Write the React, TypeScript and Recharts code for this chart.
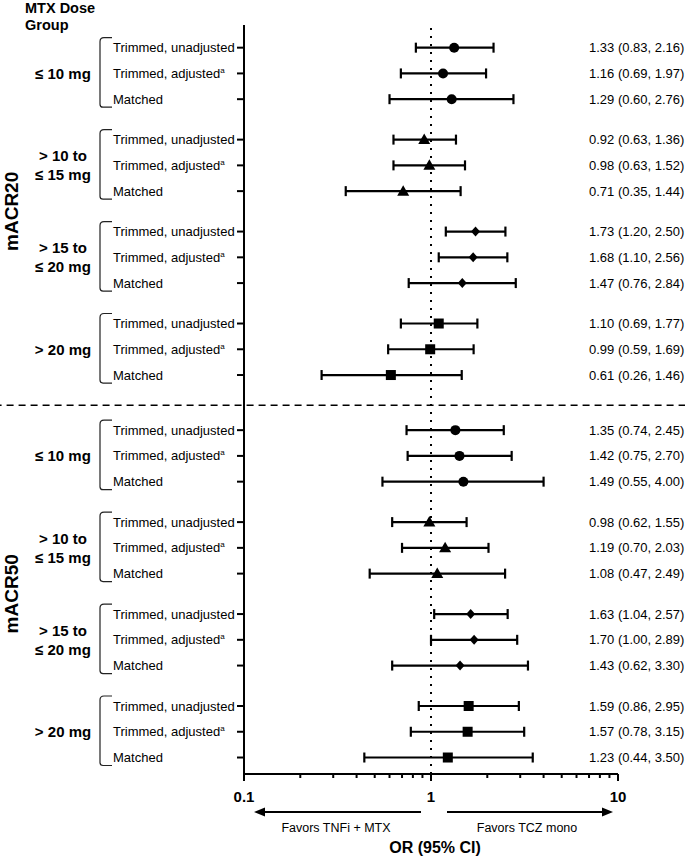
import React from "react";
import { ScatterChart, Scatter, XAxis, YAxis, ErrorBar, ReferenceLine, Label } from "recharts";

// rows inside each dose group, top to bottom
const outcomes = ["mACR20", "mACR50"];
const doseGroups = [["≤ 10 mg"], ["> 10 to", "≤ 15 mg"], ["> 15 to", "≤ 20 mg"], ["> 20 mg"]];
const methods = ["Trimmed, unadjusted", "Trimmed, adjusted", "Matched"];
const footnoted = [false, true, false];
const markers = ["circle", "triangle", "diamond", "square"];

const or20 = [1.33, 1.16, 1.29, 0.92, 0.98, 0.71, 1.73, 1.68, 1.47, 1.1, 0.99, 0.61];
const lo20 = [0.83, 0.69, 0.6, 0.63, 0.63, 0.35, 1.2, 1.1, 0.76, 0.69, 0.59, 0.26];
const hi20 = [2.16, 1.97, 2.76, 1.36, 1.52, 1.44, 2.5, 2.56, 2.84, 1.77, 1.69, 1.46];

const or50 = [1.35, 1.42, 1.49, 0.98, 1.19, 1.08, 1.63, 1.7, 1.43, 1.59, 1.57, 1.23];
const lo50 = [0.74, 0.75, 0.55, 0.62, 0.7, 0.47, 1.04, 1.0, 0.62, 0.86, 0.78, 0.44];
const hi50 = [2.45, 2.7, 4.0, 1.55, 2.03, 2.49, 2.57, 2.89, 3.3, 2.95, 3.15, 3.5];

const xTicks = [0.1, 0.2, 0.3, 0.4, 0.5, 0.6, 0.7, 0.8, 0.9, 1, 2, 3, 4, 5, 6, 7, 8, 9, 10];
const majorTicks = [0.1, 1, 10];

const W = 685;
const H = 857;
const PLOT_TOP = 25;
const PLOT_BOTTOM = 774;
const Y_MIN = -0.88;
const Y_MAX = 28.2;
const GROUP_STEP = 3.57;
const OUTCOME_GAP = 0.57;
const FONT = '"Liberation Sans", Arial, Helvetica, sans-serif';

const unitPx = (PLOT_BOTTOM - PLOT_TOP) / (Y_MAX - Y_MIN);
const yPix = (v: number) => PLOT_TOP + (v - Y_MIN) * unitPx;

const series = [
  { or: or20, lo: lo20, hi: hi20 },
  { or: or50, lo: lo50, hi: hi50 },
];

type Row = {
  pos: number;
  or: number;
  lo: number;
  hi: number;
  err: [number, number];
  method: number;
  group: number;
};

const rows: Row[] = [];
series.forEach((s, o) => {
  doseGroups.forEach((_, g) => {
    methods.forEach((_m, r) => {
      const i = g * 3 + r;
      const start = (o * 4 + g) * GROUP_STEP + o * OUTCOME_GAP;
      rows.push({
        pos: start + r,
        or: s.or[i],
        lo: s.lo[i],
        hi: s.hi[i],
        err: [s.or[i] - s.lo[i], s.hi[i] - s.or[i]],
        method: r,
        group: g,
      });
    });
  });
});

const separatorPos = 3 * GROUP_STEP + 2 + (GROUP_STEP - 2 + OUTCOME_GAP) / 2 + 0.1;

function Marker(props: any) {
  const { cx, cy, payload } = props;
  const kind = markers[payload.group];
  if (kind === "circle") return <circle cx={cx} cy={cy} r={5} fill="#000" />;
  if (kind === "triangle")
    return <polygon points={`${cx},${cy - 6} ${cx - 6},${cy + 4.5} ${cx + 6},${cy + 4.5}`} fill="#000" />;
  if (kind === "diamond")
    return <polygon points={`${cx},${cy - 5} ${cx + 4.5},${cy} ${cx},${cy + 5} ${cx - 4.5},${cy}`} fill="#000" />;
  return <rect x={cx - 5} y={cy - 5} width={10} height={10} fill="#000" />;
}

function RowTick(props: any) {
  const { y, payload } = props;
  const row = rows.find((r) => Math.abs(r.pos - payload.value) < 1e-6);
  if (!row) return null;
  const lines = doseGroups[row.group];
  const top = y - unitPx - 10;
  const bottom = y + unitPx + 8;
  return (
    <g fontFamily={FONT} fill="#000">
      <text x={113} y={y + 4.5} fontSize={13}>
        {methods[row.method]}
        {footnoted[row.method] && (
          <tspan dy={-5} fontSize={8}>
            a
          </tspan>
        )}
      </text>
      <text x={589} y={y + 4.5} fontSize={13}>
        {`${row.or.toFixed(2)} (${row.lo.toFixed(2)}, ${row.hi.toFixed(2)})`}
      </text>
      {row.method === 1 && (
        <g>
          <path
            d={`M112,${top} L104,${top} Q100,${top} 100,${top + 4} L100,${bottom - 3} Q100,${bottom} 103,${bottom} L112,${bottom}`}
            fill="none"
            stroke="#222"
            strokeWidth={1.2}
          />
          {lines.map((t, k) => (
            <text
              key={t}
              x={63}
              y={y + 5.4 + (k - (lines.length - 1) / 2) * 19}
              fontSize={15}
              fontWeight="bold"
              textAnchor="middle"
            >
              {t}
            </text>
          ))}
        </g>
      )}
    </g>
  );
}

function OrTick(props: any) {
  const { x, y, payload } = props;
  const v = payload.value;
  const major = majorTicks.includes(v);
  return (
    <g fontFamily={FONT} fill="#000">
      <line x1={x} x2={x} y1={y} y2={y + (major ? 7 : 4)} stroke="#000" strokeWidth={2} />
      {major && (
        <text x={x} y={y + 28} fontSize={15} fontWeight="bold" textAnchor="middle">
          {v}
        </text>
      )}
      {v === 1 && (
        <g>
          <line x1={x - 10} x2={x - 168} y1={y + 38} y2={y + 38} stroke="#000" strokeWidth={2} />
          <polygon points={`${x - 177},${y + 38} ${x - 166},${y + 33.5} ${x - 166},${y + 42.5}`} fill="#000" />
          <line x1={x + 16} x2={x + 172} y1={y + 38} y2={y + 38} stroke="#000" strokeWidth={2} />
          <polygon points={`${x + 182},${y + 38} ${x + 171},${y + 33.5} ${x + 171},${y + 42.5}`} fill="#000" />
          <text x={x - 95} y={y + 57.5} fontSize={12.5} textAnchor="middle">
            Favors TNFi + MTX
          </text>
          <text x={x + 96} y={y + 57.5} fontSize={12.5} textAnchor="middle">
            Favors TCZ mono
          </text>
          <text x={x + 4} y={y + 79} fontSize={16} fontWeight="bold" textAnchor="middle">
            OR (95% CI)
          </text>
        </g>
      )}
    </g>
  );
}

function SideLabels() {
  const mid20 = (rows[0].pos + rows[11].pos) / 2;
  const mid50 = (rows[12].pos + rows[23].pos) / 2;
  return (
    <g fontFamily={FONT} fill="#000" fontWeight="bold">
      <text x={25} y={12.5} fontSize={14.5}>
        MTX Dose
      </text>
      <text x={25} y={30} fontSize={14.5}>
        Group
      </text>
      {[mid20, mid50].map((m, k) => (
        <text
          key={outcomes[k]}
          transform={`translate(17.5, ${yPix(m)}) rotate(-90)`}
          fontSize={19}
          textAnchor="middle"
        >
          {outcomes[k]}
        </text>
      ))}
    </g>
  );
}

export default function App() {
  return (
    <div style={{ position: "absolute", left: 0, top: 0, width: W, height: H, background: "#fff" }}>
      <ScatterChart
        width={W}
        height={H}
        margin={{ top: PLOT_TOP, right: 67, bottom: H - PLOT_BOTTOM - 30, left: 0 }}
        style={{ fontFamily: FONT }}
      >
        <XAxis
          dataKey="or"
          type="number"
          scale="log"
          domain={[0.1, 10]}
          allowDataOverflow
          ticks={xTicks}
          interval={0}
          height={30}
          tickSize={0}
          tickMargin={0}
          tick={<OrTick />}
          axisLine={{ stroke: "#000", strokeWidth: 2 }}
        />
        <YAxis
          dataKey="pos"
          type="number"
          domain={[Y_MIN, Y_MAX]}
          allowDataOverflow
          reversed
          ticks={rows.map((r) => r.pos)}
          interval={0}
          width={244}
          tickSize={7}
          tick={<RowTick />}
          tickLine={{ stroke: "#000", strokeWidth: 2 }}
          axisLine={{ stroke: "#000", strokeWidth: 2 }}
        >
          <Label content={() => <SideLabels />} />
        </YAxis>
        <ReferenceLine x={1} stroke="#000" strokeWidth={2} strokeDasharray="2 6" />
        <ReferenceLine
          segment={[
            { x: 0.004, y: separatorPos },
            { x: 50, y: separatorPos },
          ]}
          ifOverflow="visible"
          stroke="#000"
          strokeWidth={1.5}
          strokeDasharray="7 5"
        />
        <Scatter data={rows} shape={<Marker />} isAnimationActive={false}>
          <ErrorBar
            dataKey="err"
            direction="x"
            width={5}
            stroke="#000"
            strokeWidth={2.2}
            isAnimationActive={false}
          />
        </Scatter>
      </ScatterChart>
    </div>
  );
}
